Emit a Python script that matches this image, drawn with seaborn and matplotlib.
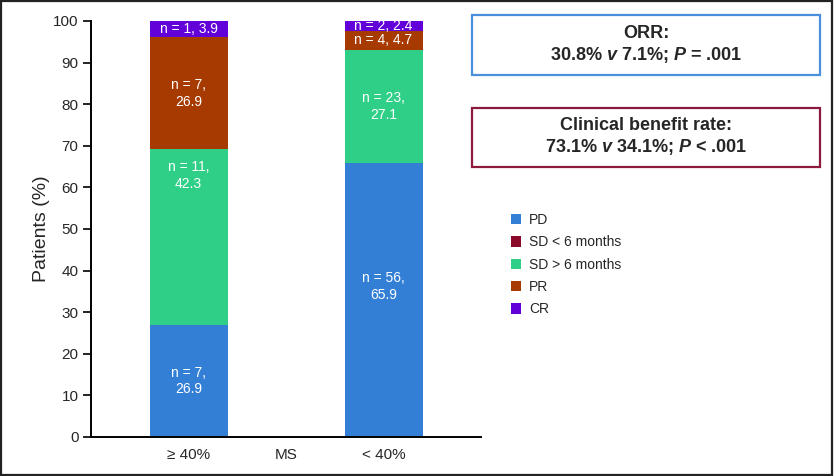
import matplotlib
matplotlib.use("Agg")
import matplotlib.pyplot as plt
from matplotlib.patches import Patch, Rectangle
import seaborn as sns
import numpy as np

# data
groups = ["≥ 40%", "< 40%"]
series = ["PD", "SD < 6 months", "SD > 6 months", "PR", "CR"]
pd_pct = [26.9, 65.9]
pd_n = [7, 56]
sd_lt6_pct = [0, 0]
sd_lt6_n = [0, 0]
sd_gt6_pct = [42.3, 27.1]
sd_gt6_n = [11, 23]
pr_pct = [26.9, 4.7]
pr_n = [7, 4]
cr_pct = [3.9, 2.4]
cr_n = [1, 2]

colors = ["#337fd6", "#8b0a2a", "#30cf87", "#a63a00", "#6200d9"]

sns.set_style("white")
plt.rcParams['font.family'] = ['Liberation Sans', 'DejaVu Sans']
plt.rcParams['mathtext.fontset'] = 'custom'
plt.rcParams['mathtext.it'] = 'Liberation Sans:italic:bold'

fig = plt.figure(figsize=(8.34, 4.76), dpi=100)
ax = fig.add_axes([91 / 834, 1 - 437 / 476, 390 / 834, 416 / 476])

pcts = [pd_pct, sd_lt6_pct, sd_gt6_pct, pr_pct, cr_pct]
ns = [pd_n, sd_lt6_n, sd_gt6_n, pr_n, cr_n]
cum = np.cumsum(np.array(pcts), axis=0)

# stacked bars: draw cumulative totals from the top layer down
for i in reversed(range(len(series))):
    sns.barplot(x=groups, y=cum[i], color=colors[i], width=0.4,
                saturation=1, linewidth=0, ax=ax)

# label nudges (fraction of segment height), where the source moved them
label_frac = {(2, 0): 0.85, (0, 1): 0.55}
for i in range(len(series)):
    for j in range(len(groups)):
        v = pcts[i][j]
        if v == 0:
            continue
        base = cum[i][j] - v
        y = base + v * label_frac.get((i, j), 0.5)
        if v > 10:
            txt = f"n = {ns[i][j]},\n{v}"
        else:
            txt = f"n = {ns[i][j]}, {v}"
        ax.text(j, y, txt, ha="center", va="center", color="white",
                fontsize=10, linespacing=1.25)

ax.set_ylim(0, 100)
ax.set_xlim(-0.5, 1.5)
ax.set_yticks(range(0, 101, 10))
ax.set_ylabel("Patients (%)", fontsize=14, labelpad=2)
ax.set_xlabel("")
ax.tick_params(axis="y", length=6, width=1.2, labelsize=11, pad=3, color="black", left=True)
ax.tick_params(axis="x", length=0, labelsize=11, pad=8)
ax.text(0.5, -11 / 416, "MS", transform=ax.get_xaxis_transform(), ha="center",
        va="top", fontsize=11)
sns.despine(ax=ax)
for s in ["left", "bottom"]:
    ax.spines[s].set_color("black")
    ax.spines[s].set_linewidth(1.4)

# legend
handles = [Patch(facecolor=c, edgecolor="none") for c in colors]
fig.legend(handles, series, loc="upper left", frameon=False,
           bbox_to_anchor=(511 / 834, 1 - 213 / 476), borderaxespad=0,
           borderpad=0, fontsize=10, handlelength=0.75, handleheight=0.75,
           handletextpad=0.55, labelspacing=0.6)

# annotation boxes
fig.patches.append(Rectangle((472 / 834, 1 - 75 / 476), 348 / 834, 60 / 476,
                             transform=fig.transFigure, fill=False,
                             edgecolor="#4a8fdc", linewidth=1.6))
fig.text(646 / 834, 1 - 45 / 476, "ORR:\n30.8% $v$ 7.1%; $P$ = .001",
         ha="center", va="center", fontsize=13, fontweight="bold", linespacing=1.25)
fig.patches.append(Rectangle((472 / 834, 1 - 167 / 476), 348 / 834, 59 / 476,
                             transform=fig.transFigure, fill=False,
                             edgecolor="#8b1a3c", linewidth=1.6))
fig.text(646 / 834, 1 - 137 / 476, "Clinical benefit rate:\n73.1% $v$ 34.1%; $P$ < .001",
         ha="center", va="center", fontsize=13, fontweight="bold", linespacing=1.25)

# outer frame
fig.patches.append(Rectangle((0.001, 0.002), 0.997, 0.996, transform=fig.transFigure,
                             fill=False, edgecolor="#222222", linewidth=1.6))

fig.savefig("out.png", dpi=100)
